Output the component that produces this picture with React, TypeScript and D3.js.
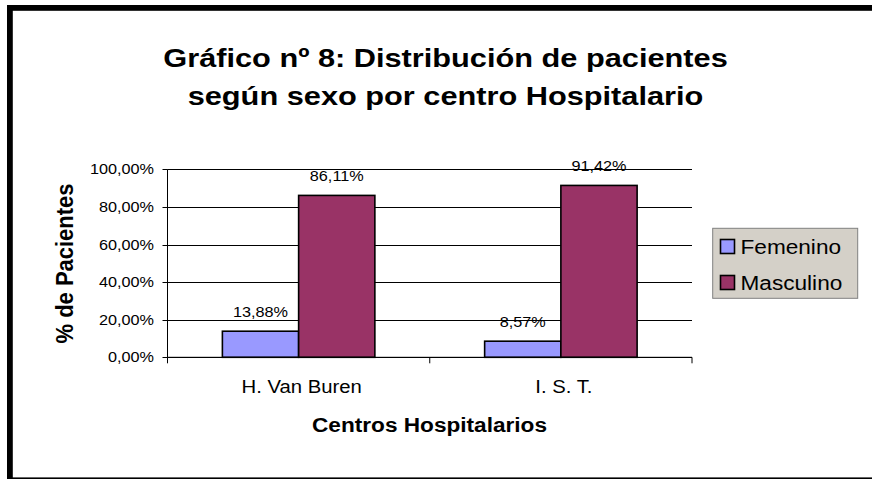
import React from "react";
import * as d3 from "d3";

const categories = ["H. Van Buren", "I. S. T."];
const seriesNames = ["Femenino", "Masculino"];
const femenino = [13.88, 8.57];
const masculino = [86.11, 91.42];
const yTicks = [0, 20, 40, 60, 80, 100];
const colors = ["#9999FF", "#993366"];
const titleLines = ["Gráfico nº 8: Distribución de pacientes", "según sexo por centro Hospitalario"];

const FONT = "'Liberation Sans', Arial, sans-serif";
const SX = 1.16;

function T({ x, y, size, bold, anchor, children, sx = SX }: any) {
  return (
    <text
      transform={`translate(${x},${y}) scale(${sx},1)`}
      fontFamily={FONT}
      fontSize={size}
      fontWeight={bold ? "bold" : "normal"}
      textAnchor={anchor || "start"}
      fill="#000"
    >
      {children}
    </text>
  );
}

export default function App() {
  const W = 872, H = 479;
  const left = 167.5, right = 692, top = 169.3, bottom = 357.3;
  const fmt = (v: number) => v.toFixed(2).replace(".", ",") + "%";
  const y = d3.scaleLinear().domain([0, 100]).range([bottom, top]);
  const x0 = d3.scaleBand<string>().domain(categories).range([left, right]).padding(0);
  const x1 = d3.scaleBand<string>().domain(seriesNames).range([0, x0.bandwidth()]).paddingInner(0).paddingOuter(0.72);
  const data = [femenino, masculino];

  return (
    <svg width={W} height={H} style={{ position: "absolute", left: 0, top: 0, background: "#fff" }}>
      <rect x={0} y={0} width={W} height={H} fill="#fff" />
      <rect x={9.9} y={7.9} width={W + 20} height={472.4} fill="none" stroke="#000" strokeWidth={5.8} />
      {titleLines.map((t, i) => (
        <T key={i} x={445.5} y={67 + i * 38} size={26.5} bold anchor="middle">{t}</T>
      ))}
      {/* gridlines */}
      {yTicks.map((t) => (
        <line key={t} x1={left} x2={right} y1={Math.round(y(t)) + 0.5} y2={Math.round(y(t)) + 0.5} stroke="#000" strokeWidth={1} />
      ))}
      {/* y axis */}
      <line x1={left} x2={left} y1={top} y2={bottom} stroke="#000" strokeWidth={1} />
      {yTicks.map((t) => (
        <g key={"yt" + t}>
          <line x1={left - 5} x2={left} y1={Math.round(y(t)) + 0.5} y2={Math.round(y(t)) + 0.5} stroke="#000" />
          <T x={154} y={y(t) + 5} size={14} anchor="end">{fmt(t)}</T>
        </g>
      ))}
      {/* bars */}
      {categories.map((c, ci) => (
        <g key={c}>
          {seriesNames.map((s, si) => {
            const v = data[si][ci];
            const bx = (x0(c) as number) + (x1(s) as number);
            const bw = x1.bandwidth();
            return (
              <g key={s}>
                <rect x={bx} y={y(v)} width={bw} height={bottom - y(v)} fill={colors[si]} stroke="#000" strokeWidth={1.6} />
                <T x={bx + bw / 2} y={y(v) - 14.5} size={14} anchor="middle">{fmt(v)}</T>
              </g>
            );
          })}
        </g>
      ))}
      {/* x axis */}
      <line x1={left} x2={right} y1={bottom} y2={bottom} stroke="#000" strokeWidth={1} />
      {[...categories.map((c) => x0(c) as number), right].map((tx, i) => (
        <line key={"xt" + i} x1={tx} x2={tx} y1={bottom} y2={bottom + 6} stroke="#000" />
      ))}
      {categories.map((c) => (
        <T key={"cl" + c} x={(x0(c) as number) + x0.bandwidth() / 2 + 3} y={393} size={17.5} anchor="middle">{c}</T>
      ))}
      <T x={429.5} y={432} size={19.5} bold anchor="middle">Centros Hospitalarios</T>
      <g transform={`translate(73,263.5) rotate(-90)`}>
        <text fontFamily={FONT} fontSize={22} fontWeight="bold" textAnchor="middle" transform="scale(1,1.1)">% de Pacientes</text>
      </g>
      {/* legend */}
      <rect x={712.7} y={228.3} width={145} height={70} fill="#D4D0C8" stroke="#808080" strokeWidth={1} />
      {seriesNames.map((s, i) => (
        <g key={"lg" + s}>
          <rect x={720.5} y={239.5 + i * 36} width={14} height={14} fill={colors[i]} stroke="#000" strokeWidth={1.6} />
          <T x={740.5} y={254 + i * 36} size={19.5} anchor="start">{s}</T>
        </g>
      ))}
    </svg>
  );
}
